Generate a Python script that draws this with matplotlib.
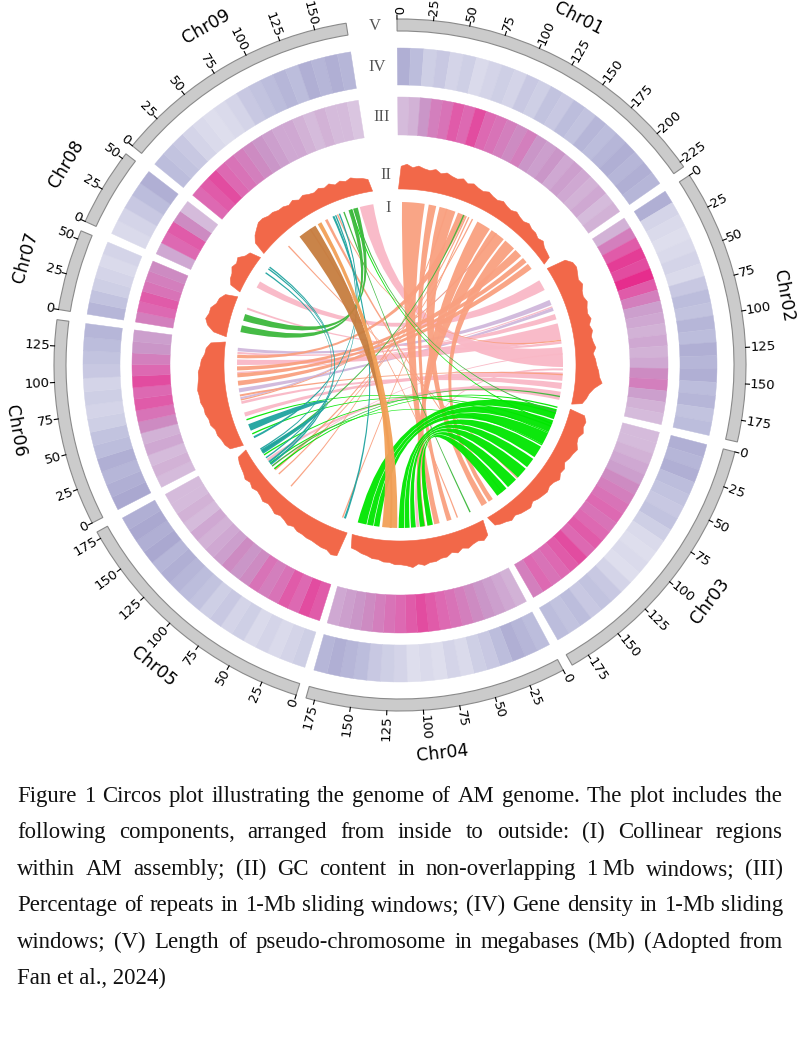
import numpy as np
import matplotlib
matplotlib.use('Agg')
import matplotlib.pyplot as plt
from matplotlib.patches import Wedge, PathPatch, Polygon
from matplotlib.path import Path

# chromosomes (Mb)
chrom_names = ['Chr01', 'Chr02', 'Chr03', 'Chr04', 'Chr05', 'Chr06', 'Chr07', 'Chr08', 'Chr09']
chrom_len = [229, 190, 188, 181, 180, 143, 56, 54, 172]

# track IV: gene density (0-1, per chromosome, equal bins)
gene_density = [
    [0.55, 0.45, 0.3, 0.35, 0.25, 0.3, 0.2, 0.25, 0.3, 0.25, 0.35, 0.3, 0.4, 0.35, 0.45, 0.4, 0.5, 0.45, 0.5, 0.55, 0.5, 0.55, 0.5],
    [0.55, 0.25, 0.2, 0.15, 0.2, 0.25, 0.2, 0.35, 0.45, 0.4, 0.5, 0.45, 0.55, 0.5, 0.55, 0.45, 0.5, 0.4, 0.45],
    [0.55, 0.5, 0.55, 0.45, 0.4, 0.35, 0.4, 0.3, 0.2, 0.15, 0.2, 0.15, 0.25, 0.35, 0.4, 0.35, 0.45, 0.4, 0.45],
    [0.45, 0.5, 0.55, 0.45, 0.35, 0.3, 0.2, 0.25, 0.15, 0.2, 0.15, 0.25, 0.3, 0.35, 0.45, 0.5, 0.55, 0.5],
    [0.3, 0.25, 0.2, 0.25, 0.2, 0.3, 0.25, 0.35, 0.3, 0.4, 0.45, 0.5, 0.55, 0.5, 0.6, 0.55, 0.6, 0.55],
    [0.6, 0.55, 0.5, 0.55, 0.45, 0.4, 0.3, 0.25, 0.3, 0.25, 0.35, 0.4, 0.45, 0.5],
    [0.5, 0.4, 0.3, 0.25, 0.2, 0.25],
    [0.2, 0.25, 0.35, 0.45, 0.55],
    [0.45, 0.4, 0.35, 0.25, 0.2, 0.15, 0.2, 0.25, 0.35, 0.4, 0.45, 0.5, 0.45, 0.55, 0.5, 0.55, 0.5],
]

# track III: repeats
repeats = [
    [0.2, 0.25, 0.4, 0.5, 0.55, 0.65, 0.6, 0.7, 0.6, 0.55, 0.5, 0.45, 0.5, 0.4, 0.35, 0.4, 0.3, 0.35, 0.3, 0.25, 0.3, 0.2, 0.25],
    [0.25, 0.5, 0.65, 0.75, 0.7, 0.8, 0.65, 0.5, 0.35, 0.3, 0.25, 0.3, 0.25, 0.3, 0.45, 0.5, 0.35, 0.25, 0.2],
    [0.2, 0.2, 0.25, 0.3, 0.35, 0.45, 0.5, 0.55, 0.6, 0.55, 0.6, 0.65, 0.6, 0.7, 0.65, 0.6, 0.55, 0.6, 0.5],
    [0.25, 0.3, 0.35, 0.4, 0.45, 0.5, 0.55, 0.6, 0.65, 0.7, 0.65, 0.6, 0.55, 0.5, 0.45, 0.4, 0.35, 0.3],
    [0.65, 0.7, 0.6, 0.65, 0.55, 0.5, 0.55, 0.45, 0.4, 0.45, 0.35, 0.3, 0.25, 0.3, 0.2, 0.25, 0.2, 0.2],
    [0.2, 0.25, 0.2, 0.3, 0.25, 0.45, 0.55, 0.65, 0.6, 0.7, 0.6, 0.5, 0.4, 0.35],
    [0.5, 0.6, 0.65, 0.55, 0.5, 0.45],
    [0.3, 0.6, 0.65, 0.45, 0.2],
    [0.6, 0.65, 0.7, 0.6, 0.55, 0.5, 0.45, 0.4, 0.35, 0.3, 0.3, 0.25, 0.2, 0.25, 0.2, 0.2, 0.15],
]

# track II: GC content (relative height)
gc_content = [
    [0.75, 0.85, 0.7, 0.8, 0.7, 0.65, 0.75, 0.6, 0.7, 0.6, 0.55, 0.65, 0.5, 0.6, 0.5, 0.45, 0.55,
     0.45, 0.4, 0.5, 0.4, 0.35, 0.45, 0.35, 0.3, 0.4, 0.3, 0.3, 0.2, 0.3, 0.15, 0.1, 0.05],
    [0.6, 0.85, 0.9, 0.8, 0.7, 0.8, 0.65, 0.6, 0.7, 0.6, 0.55, 0.65, 0.5, 0.6, 0.5, 0.55, 0.65,
     0.5, 0.6, 0.65, 0.75, 0.8, 0.95, 0.6, 0.4, 0.3, 0.15],
    [0.4, 0.55, 0.5, 0.6, 0.45, 0.5, 0.65, 0.55, 0.5, 0.4, 0.55, 0.5, 0.65, 0.5, 0.45, 0.55, 0.5,
     0.45, 0.35, 0.5, 0.45, 0.4, 0.3, 0.4, 0.3, 0.25, 0.15],
    [0.4, 0.55, 0.45, 0.5, 0.6, 0.5, 0.65, 0.55, 0.7, 0.7, 0.8, 0.8, 0.9, 0.8, 0.95, 0.85, 0.8,
     0.8, 0.7, 0.7, 0.6, 0.6, 0.5, 0.45, 0.35, 0.3],
    [0.85, 0.9, 0.75, 0.75, 0.7, 0.65, 0.65, 0.6, 0.6, 0.5, 0.6, 0.5, 0.45, 0.55, 0.45, 0.4, 0.5,
     0.4, 0.35, 0.45, 0.35, 0.45, 0.35, 0.3, 0.25, 0.15],
    [0.3, 0.45, 0.5, 0.6, 0.6, 0.75, 0.75, 0.85, 0.85, 0.95, 0.95, 1.0, 0.95, 0.9, 0.9, 0.8, 0.75,
     0.6, 0.55, 0.35],
    [0.3, 0.65, 0.8, 0.7, 0.7, 0.5, 0.45, 0.25],
    [0.2, 0.35, 0.4, 0.55, 0.45, 0.55, 0.3, 0.2],
    [0.3, 0.55, 0.7, 0.85, 0.85, 0.75, 0.75, 0.65, 0.65, 0.55, 0.65, 0.5, 0.6, 0.5, 0.45, 0.55, 0.45,
     0.55, 0.4, 0.5, 0.4, 0.5, 0.4, 0.35, 0.25],
]

# track I: collinear regions (chrA, startA, endA, chrB, startB, endB, colour key)
links = [
    ('Chr06', 132, 137, 'Chr02', 40, 48, 'thistle'),
    ('Chr06', 72, 78, 'Chr02', 52, 57, 'thistle'),
    ('Chr06', 62, 65, 'Chr01', 150, 152, 'thistle'),
    ('Chr02', 8, 24, 'Chr08', 16, 26, 'pink'),
    ('Chr02', 76, 100, 'Chr06', 112, 120, 'pink'),
    ('Chr02', 111, 140, 'Chr09', 150, 170, 'pink'),
    ('Chr02', 148, 160, 'Chr06', 36, 42, 'pink'),
    ('Chr02', 163, 172, 'Chr06', 55, 59, 'pink'),
    ('Chr02', 176, 188, 'Chr05', 150, 154, 'pink'),
    ('Chr02', 62, 70, 'Chr06', 128, 131, 'pink'),
    ('Chr02', 142, 145, 'Chr04', 88, 92, 'pink'),
    ('Chr02', 102, 106, 'Chr07', 44, 47, 'pink'),
    ('Chr02', 50, 52, 'Chr06', 100, 102, 'pink'),
    ('Chr02', 120, 122, 'Chr05', 140, 142, 'pink'),
    ('Chr01', 5, 38, 'Chr04', 58, 66, 'salmon'),
    ('Chr01', 44, 55, 'Chr04', 40, 47, 'salmon'),
    ('Chr01', 60, 84, 'Chr03', 178, 187, 'salmon'),
    ('Chr01', 88, 100, 'Chr06', 122, 127, 'salmon'),
    ('Chr01', 119, 140, 'Chr04', 70, 76, 'salmon'),
    ('Chr01', 143, 165, 'Chr04', 79, 86, 'salmon'),
    ('Chr01', 168, 185, 'Chr03', 168, 175, 'salmon'),
    ('Chr01', 188, 200, 'Chr06', 104, 110, 'salmon'),
    ('Chr01', 204, 212, 'Chr06', 94, 100, 'salmon'),
    ('Chr01', 215, 224, 'Chr06', 82, 89, 'salmon'),
    ('Chr01', 104, 106, 'Chr05', 12, 14, 'salmon'),
    ('Chr01', 110, 112, 'Chr05', 125, 127, 'salmon'),
    ('Chr01', 70, 72, 'Chr05', 100, 102, 'salmon'),
    ('Chr01', 150, 152, 'Chr06', 60, 62, 'salmon'),
    ('Chr09', 70, 72, 'Chr04', 30, 32, 'salmon'),
    ('Chr09', 115, 117, 'Chr02', 100, 102, 'salmon'),
    ('Chr09', 30, 32, 'Chr03', 120, 122, 'salmon'),
    ('Chr06', 66, 69, 'Chr02', 150, 152, 'salmon'),
    ('Chr05', 133, 136, 'Chr01', 100, 102, 'salmon'),
    ('Chr09', 96, 100, 'Chr03', 150, 152, 'salmon'),
    ('Chr03', 5, 20, 'Chr04', 165, 178, 'lime'),
    ('Chr03', 22, 40, 'Chr04', 155, 164, 'lime'),
    ('Chr03', 42, 60, 'Chr04', 146, 154, 'lime'),
    ('Chr03', 64, 82, 'Chr04', 110, 118, 'lime'),
    ('Chr03', 85, 100, 'Chr04', 102, 109, 'lime'),
    ('Chr03', 103, 120, 'Chr04', 93, 100, 'lime'),
    ('Chr03', 124, 140, 'Chr04', 80, 87, 'lime'),
    ('Chr03', 143, 160, 'Chr04', 68, 76, 'lime'),
    ('Chr03', 1, 3, 'Chr05', 135, 137, 'lime'),
    ('Chr03', 10, 12, 'Chr05', 160, 162, 'lime'),
    ('Chr03', 30, 32, 'Chr06', 8, 10, 'lime'),
    ('Chr03', 26, 28, 'Chr09', 136, 138, 'lime'),
    ('Chr05', 145, 147, 'Chr03', 60, 62, 'lime'),
    ('Chr06', 30, 32, 'Chr03', 40, 42, 'lime'),
    ('Chr07', 10, 20, 'Chr09', 133, 139, 'green'),
    ('Chr07', 27, 37, 'Chr09', 141, 147, 'green'),
    ('Chr09', 140, 142, 'Chr03', 8, 10, 'green'),
    ('Chr09', 125, 127, 'Chr04', 10, 12, 'green'),
    ('Chr05', 165, 168, 'Chr01', 96, 98, 'green'),
    ('Chr05', 140, 142, 'Chr02', 182, 184, 'green'),
    ('Chr08', 47, 49, 'Chr05', 143, 146, 'teal'),
    ('Chr08', 50, 52, 'Chr05', 147, 150, 'teal'),
    ('Chr08', 40, 42, 'Chr05', 170, 172, 'teal'),
    ('Chr06', 14, 24, 'Chr05', 163, 170, 'teal'),
    ('Chr09', 108, 111, 'Chr05', 8, 11, 'teal'),
    ('Chr09', 112, 114, 'Chr05', 155, 157, 'teal'),
    ('Chr06', 2, 5, 'Chr09', 118, 120, 'teal'),
    ('Chr09', 52, 80, 'Chr04', 128, 131, 'brown'),
    ('Chr09', 84, 90, 'Chr04', 120, 142, 'sandy'),
]

link_colors = {
    'thistle': '#d0b8dc', 'pink': '#f9b8c6', 'salmon': '#f9a080', 'lime': '#00e600',
    'green': '#3cb83c', 'teal': '#1fa39f', 'brown': '#c67d3f', 'sandy': '#f2a057',
}
link_order = ['thistle', 'pink', 'salmon', 'lime', 'green', 'teal', 'brown', 'sandy']

caption_lines = [
    'Figure 1 Circos plot illustrating the genome of AM genome. The plot includes the',
    'following components, arranged from inside to outside: (I) Collinear regions',
    'within AM assembly; (II) GC content in non-overlapping 1\u2009Mb windows; (III)',
    'Percentage of repeats in 1-Mb sliding windows; (IV) Gene density in 1-Mb sliding',
    'windows; (V) Length of pseudo-chromosome in megabases (Mb) (Adopted from',
    'Fan et al., 2024)',
]

# layout (1 data unit = 1 pixel, circle centre at origin)
START = 90.5
DEG_PER_MB = 0.2426
GAP = 1.7
offsets = []
acc = 0.0
for L in chrom_len:
    offsets.append(acc)
    acc += L * DEG_PER_MB + GAP


def ang(ci, pos):
    return START - (offsets[ci] + pos * DEG_PER_MB)


def pol(r, deg):
    t = np.radians(deg)
    return (r * np.cos(t), r * np.sin(t))


def arc(r, d0, d1, n=40):
    ts = np.radians(np.linspace(d0, d1, n))
    return list(zip(r * np.cos(ts), r * np.sin(ts)))


fig = plt.figure(figsize=(8, 10.37), dpi=100)
ax = fig.add_axes([0, 0, 1, 1])
ax.set_xlim(-400, 400)
ax.set_ylim(-672, 365)
ax.axis('off')

purples = plt.get_cmap('Purples')
purd = plt.get_cmap('PuRd')

R_RING, W_RING = 346, 12
R_GENE, W_GENE = 317, 37
R_REP, W_REP = 268, 38
GC_BASE, GC_H = 176, 28
R_LINK = 163

for ci, name in enumerate(chrom_names):
    L = chrom_len[ci]
    a0, a1 = ang(ci, 0), ang(ci, L)

    # outer ideogram
    ax.add_patch(Wedge((0, 0), R_RING, a1, a0, width=W_RING,
                       facecolor='#cbcbcb', edgecolor='#8a8a8a', lw=0.8))
    for tick in range(0, L + 1, 25):
        t = ang(ci, tick)
        x0, y0 = pol(R_RING, t)
        x1, y1 = pol(R_RING + 4, t)
        ax.plot([x0, x1], [y0, y1], color='black', lw=0.8)
        tn = (t + 180) % 360 - 180
        if -90 <= tn <= 90:
            rot, ha = tn, 'left'
        else:
            rot, ha = tn - 180, 'right'
        tx, ty = pol(R_RING + 4.5, t)
        ax.text(tx, ty, str(tick), rotation=rot, ha=ha, va='center',
                rotation_mode='anchor', fontsize=9.5, color='black')

    mid = (a0 + a1) / 2
    mn = (mid + 180) % 360 - 180
    rot = mn - 90 if mn >= 0 else mn + 90
    lx, ly = pol(390, mid)
    ax.text(lx, ly, name, rotation=rot, ha='center', va='center',
            rotation_mode='anchor', fontsize=12.5)

    # heatmaps
    for vals, r_out, w, cmap, lo, span in [
        (gene_density[ci], R_GENE, W_GENE, purples, 0.15, 0.5),
        (repeats[ci], R_REP, W_REP, purd, 0.12, 0.62),
    ]:
        n = len(vals)
        for i, v in enumerate(vals):
            p0, p1 = i * L / n, (i + 1) * L / n
            c = cmap(lo + span * v)
            ax.add_patch(Wedge((0, 0), r_out, ang(ci, p1), ang(ci, p0), width=w,
                               facecolor=c, edgecolor=c, lw=0.3))

    # GC profile
    vals = gc_content[ci]
    n = len(vals)
    pts = [pol(GC_BASE, a0)]
    for i, v in enumerate(vals):
        pts.append(pol(GC_BASE + GC_H * (0.25 + 0.75 * v), ang(ci, (i + 0.5) * L / n)))
    pts.append(pol(GC_BASE, a1))
    pts += arc(GC_BASE, a1, a0)
    ax.add_patch(Polygon(pts, closed=True, facecolor='#f26849', edgecolor='#f26849', lw=0.4))


def ribbon(a1, a2, b1, b2, r):
    verts, codes = [], []
    pts = arc(r, a1, a2)
    verts += pts
    codes += [Path.MOVETO] + [Path.LINETO] * (len(pts) - 1)
    verts += [(0, 0), pol(r, b1)]
    codes += [Path.CURVE3, Path.CURVE3]
    pts = arc(r, b1, b2)[1:]
    verts += pts
    codes += [Path.LINETO] * len(pts)
    verts += [(0, 0), pol(r, a1)]
    codes += [Path.CURVE3, Path.CURVE3]
    verts.append(pol(r, a1))
    codes.append(Path.CLOSEPOLY)
    return Path(verts, codes)


idx = {n: i for i, n in enumerate(chrom_names)}
for key in link_order:
    for ca, s1, e1, cb, s2, e2, col in links:
        if col != key:
            continue
        p = ribbon(ang(idx[ca], s1), ang(idx[ca], e1), ang(idx[cb], s2), ang(idx[cb], e2), R_LINK)
        ax.add_patch(PathPatch(p, facecolor=link_colors[col], edgecolor='none', alpha=0.95))

# track labels
for lab, r in [('V', 340), ('IV', 299), ('III', 249), ('II', 191), ('I', 157)]:
    x, y = pol(r, 94.3)
    ax.text(x, y, lab, ha='center', va='center', fontsize=12,
            family='Liberation Serif', color='#555555')

# caption, justified
renderer = fig.canvas.get_renderer()
left, right = -383, 383
for i, line in enumerate(caption_lines):
    y = 365 - (802 + i * 36.4)
    kw = dict(fontsize=16.4, family=['Liberation Serif', 'DejaVu Serif'], color='#111111', va='baseline')
    if i == len(caption_lines) - 1:
        ax.text(left, y, line, ha='left', **kw)
        continue
    words = line.split(' ')
    texts = [ax.text(0, y, w, ha='left', **kw) for w in words]
    widths = [t.get_window_extent(renderer).width for t in texts]
    gap = max((right - left - sum(widths)) / (len(words) - 1), 2)
    x = left
    for t, w in zip(texts, widths):
        t.set_x(x)
        x += w + gap

fig.savefig('out.png', dpi=100)
